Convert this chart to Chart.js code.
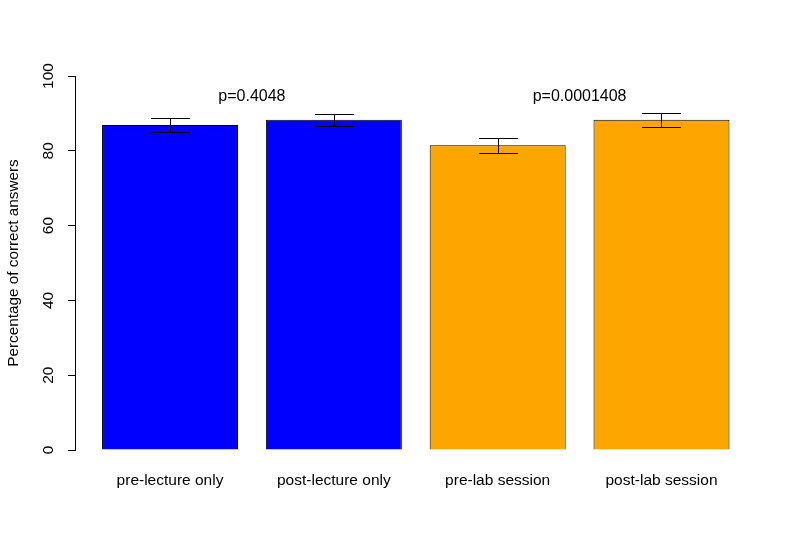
<!DOCTYPE html>
<html><head><meta charset="utf-8">
<script src="https://cdn.jsdelivr.net/npm/chart.js@4/dist/chart.umd.min.js"></script>
<style>html,body{margin:0;padding:0;background:#fff}#wrap{width:794px;height:546px}</style>
</head><body><div id="wrap"><canvas id="c" width="794" height="546"></canvas></div>
<script>
const categories = ['pre-lecture only', 'post-lecture only', 'pre-lab session', 'post-lab session'];
const percentCorrect = [86.9, 88.3, 81.5, 88.3];
const errorHalfWidth = [1.9, 1.65, 2.05, 1.9];
const barColors = ['#0000FF', '#0000FF', '#FFA500', '#FFA500'];
const yTicks = [0, 20, 40, 60, 80, 100];
const pValueLabels = ['p=0.4048', 'p=0.0001408'];
const pValuePairs = [[0, 1], [2, 3]];

const FONT = '"Liberation Sans", Arial, sans-serif';

const annotPlugin = {
  id: 'annot',
  afterDatasetsDraw(chart, args, opts) {
    const ctx = chart.ctx, xs = chart.scales.x, ys = chart.scales.y;
    ctx.save();
    ctx.strokeStyle = '#000';
    ctx.lineWidth = 1;
    percentCorrect.forEach((v, i) => {
      const x = Math.round(xs.getPixelForValue(i)) + 0.5;
      const yt = Math.round(ys.getPixelForValue(v + errorHalfWidth[i])) + 0.5;
      const yb = Math.round(ys.getPixelForValue(v - errorHalfWidth[i])) + 0.5;
      ctx.beginPath();
      ctx.moveTo(x, yt); ctx.lineTo(x, yb);
      ctx.moveTo(x - opts.capHalf, yt); ctx.lineTo(x + opts.capHalf, yt);
      ctx.moveTo(x - opts.capHalf, yb); ctx.lineTo(x + opts.capHalf, yb);
      ctx.stroke();
    });
    ctx.fillStyle = '#000';
    ctx.font = opts.fontSize + 'px ' + FONT;
    ctx.textAlign = 'center';
    ctx.textBaseline = 'middle';
    pValueLabels.forEach((t, k) => {
      const [a, b] = pValuePairs[k];
      const x = xs.getPixelForValue((a + b) / 2);
      const y = ys.getPixelForValue(opts.labelY);
      ctx.fillText(t, x, y);
    });
    ctx.restore();
  }
};

new Chart(document.getElementById('c'), {
  type: 'bar',
  data: {
    datasets: [{
      data: percentCorrect.map((v, i) => ({ x: i, y: v })),
      backgroundColor: barColors,
      borderColor: '#000',
      borderWidth: 1,
      barPercentage: 0.83,
      categoryPercentage: 1
    }]
  },
  options: {
    responsive: false,
    animation: false,
    devicePixelRatio: 1,
    layout: { padding: { top: 76, right: 51, left: 0, bottom: 0 } },
    plugins: {
      legend: { display: false },
      tooltip: { enabled: false },
      annot: { capHalf: 19.5, labelY: 94.6, fontSize: 16 }
    },
    scales: {
      x: {
        type: 'linear',
        offset: false,
        min: -0.58,
        max: 3.4975,
        afterBuildTicks: s => { s.ticks = categories.map((c, i) => ({ value: i })); },
        afterFit: s => { s.height = 96; },
        grid: { display: false },
        border: { display: false },
        ticks: {
          autoSkip: false, maxRotation: 0, minRotation: 0,
          padding: 13, color: '#000',
          font: { family: FONT, size: 15.5 },
          callback: v => categories[v]
        }
      },
      y: {
        min: 0, max: 100,
        afterBuildTicks: s => { s.ticks = yTicks.map(v => ({ value: v })); },
        afterFit: s => { s.width = 75; },
        grid: { display: true, drawOnChartArea: false, drawTicks: true, tickLength: 7, color: '#000', lineWidth: 1 },
        border: { display: true, color: '#000', width: 1 },
        ticks: {
          minRotation: 90, maxRotation: 90, crossAlign: 'center', padding: 6,
          color: '#000', font: { family: FONT, size: 15.5 }
        },
        title: {
          display: true, text: 'Percentage of correct answers', color: '#000',
          font: { family: FONT, size: 15.3 }, padding: { top: 5, bottom: 0 }
        }
      }
    }
  },
  plugins: [annotPlugin]
});
</script></body></html>
